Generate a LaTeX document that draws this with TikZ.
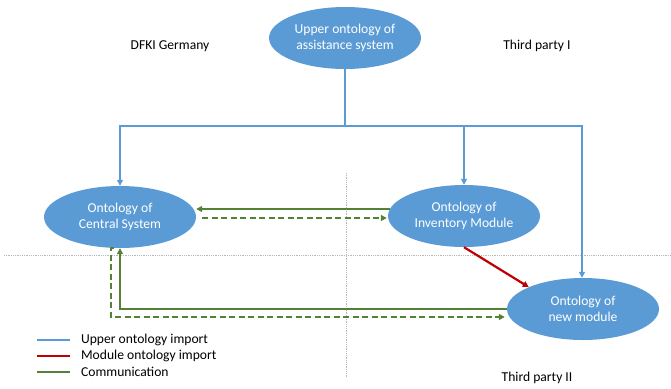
\documentclass[tikz,border=0pt]{standalone}
\usepackage{fontspec}
\setmainfont{Carlito}
\usetikzlibrary{shapes.geometric,arrows.meta,calc}
\definecolor{ontoblue}{HTML}{5B9BD5}
\definecolor{modred}{HTML}{C00000}
\definecolor{commgreen}{HTML}{548235}
\begin{document}
\begin{tikzpicture}[x=1pt,y=-1pt,
  onto/.style={ellipse, fill=ontoblue, text=white, minimum width=152pt, minimum height=62pt,
    inner sep=0pt, align=center, font=\fontsize{13.6}{16.5}\selectfont},
  label/.style={font=\fontsize{13.6}{16}\selectfont, inner sep=0pt},
  tip/.style={-{Triangle[length=6pt,width=6pt]}},
  upper/.style={draw=ontoblue, line width=2.2pt},
  module/.style={draw=modred, line width=2.2pt},
  comm/.style={draw=commgreen, line width=2.2pt},
  dashline/.style={dash pattern=on 6pt off 3.5pt},
  sep/.style={draw=gray!55, line width=0.8pt, densely dotted}]
\useasboundingbox (0,0) rectangle (671,388);

% region separators
\draw[sep] (4,255) -- (671,255);
\draw[sep] (346,173) -- (346,377);

% ontologies
\node[onto] (upperonto) at (345,38) {Upper ontology of\\assistance system};
\node[onto] (central) at (120,217) {Ontology of\\Central System};
\node[onto] (inventory) at (464,216) {Ontology of\\Inventory Module};
\node[onto] (newmod) at (583,309) {Ontology of\\new module};

% region names
\node[label] (dfki) at (170,46) {DFKI Germany};
\node[label] (tp1) at (537,46) {Third party I};
\node[label] (tp2) at (537,378) {Third party II};

% upper ontology imports
\coordinate (split) at (345,126);
\draw[upper] (upperonto.south) -- (split);
\draw[upper,tip] (split) -| (central.north);
\draw[upper,tip] (split) -| (inventory.north);
\draw[upper,tip] (split) -| ([xshift=-1pt]newmod.north);

% module ontology import
\draw[module,tip] (inventory.south) -- (newmod.158);

% communication
\draw[comm,tip] ($(inventory.west)+(2,-7)$) -- ($(central.east)+(0,-8)$);
\draw[comm,tip,dashline] ($(central.east)+(6,1)$) -- ($(inventory.west)+(-1,2)$);
\draw[comm,tip] (newmod.west) -| (central.south);
\draw[comm,tip,dashline] ($(central.south)+(-6,0)$) -- ++(-3,0) |- ($(newmod.west)+(-2,8)$);

% legend
\coordinate (l1) at (37,340);
\coordinate (l2) at (37,356);
\coordinate (l3) at (37,372);
\draw[upper] (l1) -- ++(33,0) node[label, anchor=west, xshift=10pt] (lg1) {Upper ontology import};
\draw[module] (l2) -- ++(33,0) node[label, anchor=west, xshift=10pt] (lg2) {Module ontology import};
\draw[comm] (l3) -- ++(33,0) node[label, anchor=west, xshift=10pt] (lg3) {Communication};
\end{tikzpicture}
\end{document}
